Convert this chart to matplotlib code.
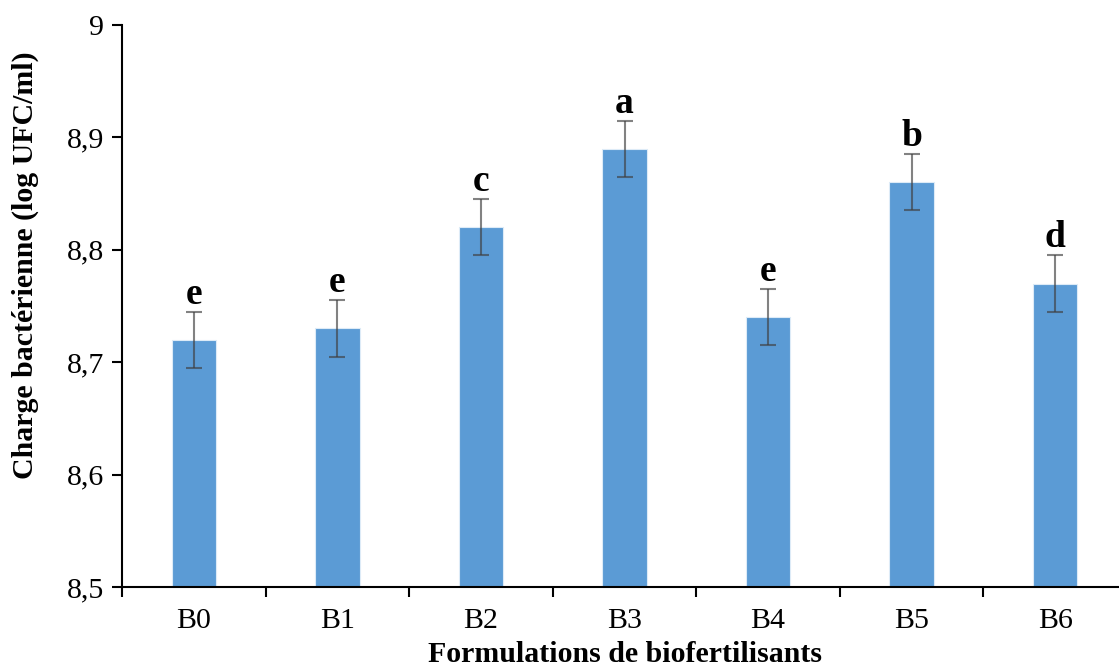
import numpy as np
import matplotlib.pyplot as plt

categories = ['B0', 'B1', 'B2', 'B3', 'B4', 'B5', 'B6']
values = [8.72, 8.73, 8.82, 8.89, 8.74, 8.86, 8.77]
errors = [0.025, 0.025, 0.025, 0.025, 0.025, 0.025, 0.025]
letters = ['e', 'e', 'c', 'a', 'e', 'b', 'd']
yticks = [8.5, 8.6, 8.7, 8.8, 8.9, 9.0]

plt.rcParams['font.family'] = ['Liberation Serif', 'DejaVu Serif']

fig = plt.figure(figsize=(11.19, 6.71), dpi=100)
# axis runs slightly past the right edge, as in the original
ax = fig.add_axes([122 / 1119, 1 - 587 / 671, 1005 / 1119, 562 / 671])

x = np.arange(len(categories))
ax.bar(x, values, width=0.31, color='#5B9BD5', edgecolor='#DDEBF7', linewidth=0.8, zorder=2)
ax.errorbar(x, values, yerr=errors, fmt='none', ecolor='#404040', alpha=0.65,
            elinewidth=1.5, capsize=6, capthick=1.5, zorder=3)

for xi, v, e, lab in zip(x, values, errors, letters):
    ax.text(xi, v + e, lab, ha='center', va='bottom', fontsize=27,
            fontweight='bold', zorder=4)

ax.set_xlim(-0.5, len(categories) - 0.5)
ax.set_ylim(8.5, 9.0)
ax.set_yticks(yticks)
ax.set_yticklabels([f'{t:g}'.replace('.', ',') for t in yticks], fontsize=21.5)

ax.set_xticks(x)
ax.set_xticklabels(categories, fontsize=21.5)
ax.set_xticks(np.arange(-0.5, len(categories), 1), minor=True)
ax.tick_params(axis='x', which='major', length=0, pad=15)
ax.tick_params(axis='x', which='minor', length=7, width=1.5, direction='out')
ax.tick_params(axis='y', length=7, width=1.5, direction='out', pad=6)

for s in ['top', 'right']:
    ax.spines[s].set_visible(False)
for s in ['left', 'bottom']:
    ax.spines[s].set_linewidth(1.5)

ax.set_xlabel('Formulations de biofertilisants', fontsize=21.5, fontweight='bold', labelpad=5)
ax.set_ylabel('Charge bactérienne (log UFC/ml)', fontsize=21.5, fontweight='bold')
ax.yaxis.set_label_coords(-0.083, 0.573)

fig.savefig('out.png', dpi=100)
